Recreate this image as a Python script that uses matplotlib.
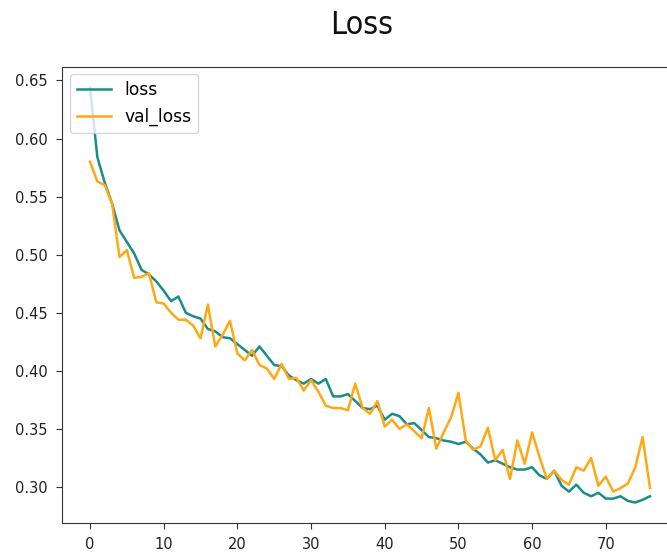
import matplotlib
matplotlib.use("Agg")
import matplotlib.pyplot as plt

loss = [0.644, 0.584, 0.562, 0.544, 0.521, 0.511, 0.501, 0.487, 0.483, 0.477,
        0.469, 0.460, 0.464, 0.450, 0.447, 0.445, 0.436, 0.434, 0.429, 0.428,
        0.423, 0.418, 0.413, 0.421, 0.413, 0.405, 0.404, 0.396, 0.392, 0.389,
        0.393, 0.389, 0.393, 0.378, 0.378, 0.380, 0.374, 0.368, 0.367, 0.370,
        0.358, 0.363, 0.361, 0.354, 0.355, 0.349, 0.343, 0.342, 0.340, 0.339,
        0.337, 0.339, 0.333, 0.328, 0.321, 0.323, 0.320, 0.317, 0.315, 0.315,
        0.317, 0.310, 0.307, 0.314, 0.301, 0.296, 0.302, 0.295, 0.292, 0.295,
        0.290, 0.290, 0.292, 0.288, 0.2866, 0.289, 0.292]

val_loss = [0.580, 0.563, 0.560, 0.544, 0.498, 0.504, 0.480, 0.481, 0.484, 0.459,
            0.458, 0.450, 0.444, 0.444, 0.439, 0.428, 0.457, 0.421, 0.431, 0.443,
            0.415, 0.409, 0.418, 0.405, 0.402, 0.393, 0.406, 0.393, 0.394, 0.383,
            0.392, 0.382, 0.370, 0.368, 0.368, 0.366, 0.389, 0.368, 0.363, 0.374,
            0.352, 0.358, 0.350, 0.354, 0.348, 0.342, 0.368, 0.333, 0.347, 0.360,
            0.381, 0.340, 0.332, 0.335, 0.351, 0.323, 0.332, 0.307, 0.340, 0.320,
            0.347, 0.326, 0.307, 0.314, 0.306, 0.302, 0.317, 0.314, 0.325, 0.301,
            0.309, 0.296, 0.299, 0.303, 0.317, 0.343, 0.299]

epochs = list(range(len(loss)))

fig = plt.figure(figsize=(6.67, 5.56), dpi=100)
ax = fig.add_axes([62 / 667, (556 - 523.3) / 556, 616 / 667, (523.3 - 66.7) / 556])
ax.plot(epochs, loss, color="#1a8c8c", lw=1.8, label="loss")
ax.plot(epochs, val_loss, color="#ffa812", lw=1.8, label="val_loss")
ax.tick_params(labelsize=10.5, length=4.2, pad=6, colors="#333333", labelcolor="#222222")
for s in ax.spines.values():
    s.set_color("#333333")
ax.legend(loc="upper left", fontsize=12.3, borderaxespad=0.45)
fig.text(361.7 / 667, (556 - 34) / 556, "Loss", ha="center", va="baseline",
         fontsize=23, fontstretch="condensed", color="#111111")
fig.savefig("out.png", dpi=100)
